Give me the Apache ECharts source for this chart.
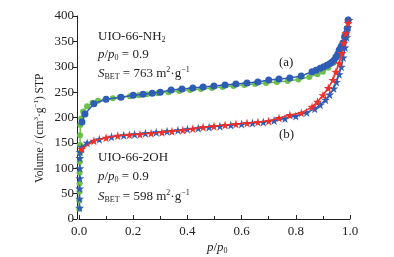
<!DOCTYPE html>
<html><head><meta charset="utf-8">
<script src="https://cdn.jsdelivr.net/npm/echarts@6/dist/echarts.min.js"></script>
<style>html,body{margin:0;padding:0;background:#fff}#c{width:394px;height:257px}</style>
</head><body><div id="c"></div>
<script>
// UIO-66-NH2 adsorption (green circles)
const nh2AdsX = [0.001,0.001,0.002,0.002,0.002,0.003,0.003,0.004,0.004,0.005,0.008,0.015,0.03,0.05,0.07,0.1,0.125,0.15,0.188,0.22,0.25,0.29,0.33,0.37,0.41,0.45,0.49,0.53,0.57,0.61,0.65,0.69,0.73,0.77,0.81,0.85,0.88,0.9,0.92,0.94,0.955,0.965,0.975,0.982,0.988,0.993];
const nh2AdsY = [20,37,54,70,91,113,130,146,165,185,198,212,222,229,233,236,238,240,242,244,246,248,250,252,254,256,258,260,262,264,266,268,270,272,275,280,285,290,298,308,320,333,348,362,376,390];
// UIO-66-NH2 desorption (blue circles)
const nh2DesX = [0.011,0.022,0.055,0.10,0.155,0.20,0.236,0.27,0.30,0.34,0.38,0.42,0.458,0.498,0.539,0.579,0.62,0.66,0.70,0.738,0.778,0.82,0.86,0.875,0.89,0.903,0.915,0.925,0.933,0.941,0.948,0.955,0.96,0.967,0.974,0.98,0.985,0.99,0.993];
const nh2DesY = [191,207,227,236,240,244,246,248,250,254,256,258,260,262,264,266,268,270,274,276,278,282,290,293,297,300,303,306,309,313,319,325,333,340,347,359,365,375,392];
// UIO-66-2OH adsorption (blue stars)
const oh2AdsX = [0.002,0.002,0.002,0.003,0.003,0.003,0.004,0.01,0.03,0.075,0.12,0.165,0.205,0.245,0.285,0.325,0.365,0.40,0.44,0.48,0.52,0.56,0.60,0.64,0.68,0.72,0.76,0.80,0.84,0.87,0.89,0.91,0.925,0.94,0.95,0.96,0.968,0.975,0.982,0.988,0.993,0.996];
const oh2AdsY = [22,40,60,80,100,120,132,142,150,157,162,165,167,169,171,173,175,177,179,181,183,185,187,189,191,194,198,203,210,217,225,235,245,257,270,285,300,318,338,358,378,392];
// UIO-66-2OH desorption (red stars)
const oh2DesX = [0.01,0.055,0.10,0.143,0.186,0.225,0.266,0.306,0.343,0.383,0.42,0.458,0.498,0.539,0.579,0.62,0.66,0.70,0.738,0.778,0.82,0.86,0.88,0.90,0.92,0.937,0.948,0.96,0.97,0.978,0.985,0.993];
const oh2DesY = [138,154,160,164,166,167,169,171,173,175,178,181,183,185,187,189,191,193,199,205,209,221,231,244,258,274,290,307,327,347,366,386];

const xTicks = ['0.0','0.2','0.4','0.6','0.8','1.0'];
const yTicks = [0,50,100,150,200,250,300,350,400];

const GREEN = '#6cc04a', BLUE = '#2f5db5', RED = '#ee2f2a';
const STAR = 'path://M50,0 L61,35 L98,35 L68,57 L79,91 L50,70 L21,91 L32,57 L2,35 L39,35 Z';
const FONT = 'Liberation Serif';

function zip(xs, ys){ return xs.map((x,i)=>[x, ys[i]]); }

const chart = echarts.init(document.getElementById('c'), null, {renderer:'canvas'});

function mkRich(fs){
  const s = Math.round(fs*0.62);
  return {
    n:{fontFamily:FONT,fontSize:fs,color:'#222',lineHeight:16},
    i:{fontFamily:FONT,fontSize:fs,fontStyle:'italic',color:'#222',lineHeight:16},
    sub:{fontFamily:FONT,fontSize:s,color:'#222',lineHeight:s,padding:[6,0,0,0]},
    sup:{fontFamily:FONT,fontSize:s,color:'#222',lineHeight:s,padding:[0,0,7,0]}
  };
}
const rich = mkRich(13);
const richY = mkRich(11.5);
function txt(x,y,text){ return {type:'text', left:x, top:y, style:{text:text, rich:rich, fill:'#222'}}; }

chart.setOption({
  animation:false,
  grid:{left:79, right:44, top:16, bottom:38},
  xAxis:{type:'value', min:0, max:1, interval:0.2,
    axisLine:{show:true, onZero:false, lineStyle:{color:'#222', width:1}},
    axisTick:{show:true, inside:true, length:4, lineStyle:{color:'#222'}},
    minorTick:{show:true, splitNumber:2, length:3, lineStyle:{color:'#222'}},
    splitLine:{show:false},
    axisLabel:{fontFamily:FONT, fontSize:13, color:'#222', margin:6,
      formatter:v=>xTicks[Math.round(v/0.2)]}
  },
  yAxis:{type:'value', min:0, max:400, interval:50, offset:2,
    axisLine:{show:true, onZero:false, lineStyle:{color:'#222', width:1}},
    axisTick:{show:true, inside:false, length:4, lineStyle:{color:'#222'}},
    splitLine:{show:false},
    axisLabel:{fontFamily:FONT, fontSize:13, color:'#222', margin:3,
      formatter:v=>String(yTicks[Math.round(v/50)])}
  },
  graphic:[
    txt(98,30,'{n|UIO-66-NH}{sub|2}'),
    txt(98,48,'{i|p}{n|/}{i|p}{sub|0}{n| = 0.9}'),
    txt(98,66,'{i|S}{sub|BET}{n| = 763 m}{sup|2}{n|·g}{sup|−1}'),
    txt(98,151,'{n|UIO-66-2OH}'),
    txt(98,170,'{i|p}{n|/}{i|p}{sub|0}{n| = 0.9}'),
    txt(98,189,'{i|S}{sub|BET}{n| = 598 m}{sup|2}{n|·g}{sup|−1}'),
    txt(279,56,'{n|(a)}'),
    txt(279,128,'{n|(b)}'),
    txt(207,241,'{i|p}{n|/}{i|p}{sub|0}'),
    {type:'text', x:32, y:183, rotation:Math.PI/2,
      style:{text:'{n|Volume / (cm}{sup|3}{n|·g}{sup|−1}{n|) STP}', rich:richY, fill:'#222'}}
  ],
  series:[
    {type:'line', data:zip(nh2AdsX,nh2AdsY), symbol:'circle', symbolSize:6,
      itemStyle:{color:GREEN}, lineStyle:{color:GREEN, width:1.5}, z:2},
    {type:'line', data:zip(nh2DesX,nh2DesY), symbol:'circle', symbolSize:7,
      itemStyle:{color:BLUE}, lineStyle:{color:BLUE, width:1.5}, z:3},
    {type:'line', data:zip(oh2AdsX,oh2AdsY), symbol:STAR, symbolSize:9,
      itemStyle:{color:BLUE}, lineStyle:{color:BLUE, width:1.5}, z:2},
    {type:'line', data:zip(oh2DesX,oh2DesY), symbol:STAR, symbolSize:9,
      itemStyle:{color:RED}, lineStyle:{color:RED, width:1.5}, z:3}
  ]
});
</script></body></html>
